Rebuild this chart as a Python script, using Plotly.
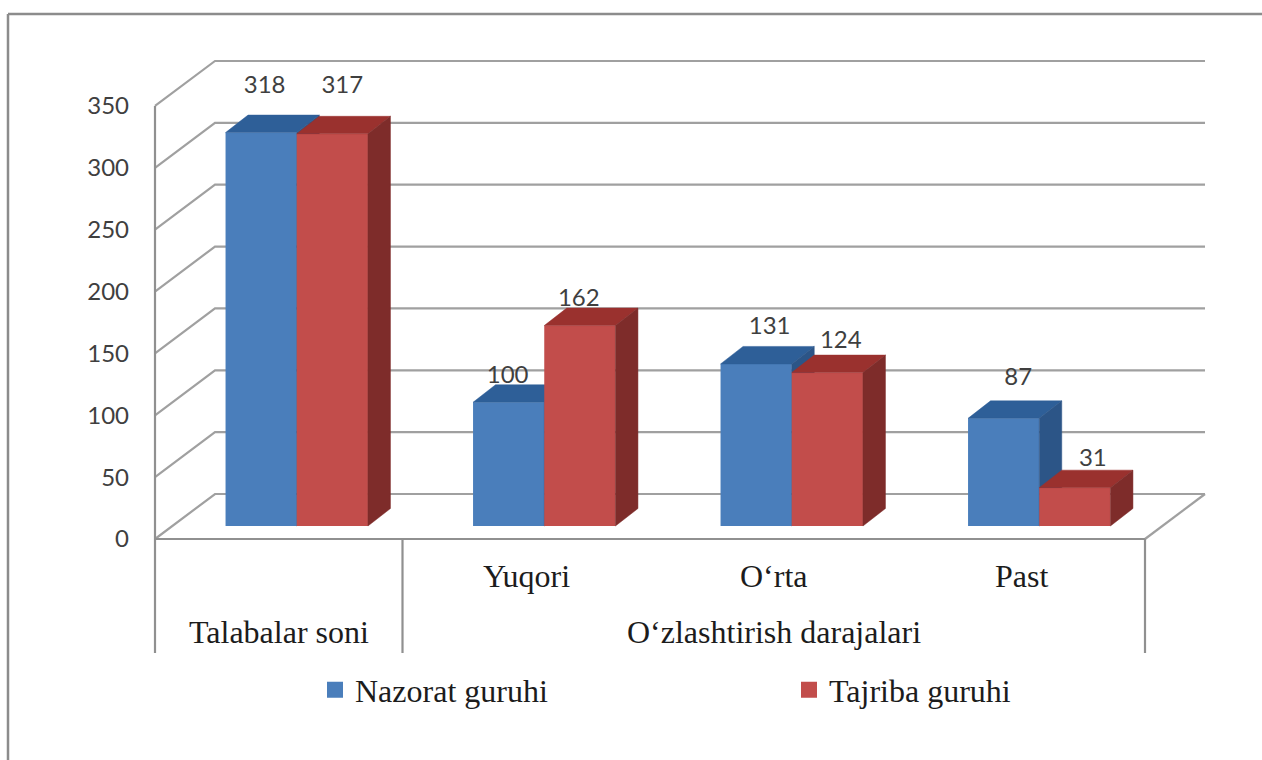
import plotly.graph_objects as go

# ---------- data ----------
series_names = ["Nazorat guruhi", "Tajriba guruhi"]
nazorat = [318, 100, 131, 87]
tajriba = [317, 162, 124, 31]
categories = ["", "Yuqori", "O‘rta", "Past"]
groups = ["Talabalar soni", "O‘zlashtirish darajalari"]
group_spans = [(0, 1), (1, 4)]
y_ticks = [0, 50, 100, 150, 200, 250, 300, 350]

# ---------- style / projection constants ----------
SLOT_PX = 247.5          # pixels per category slot
VAL_PX = 1.2372          # pixels per value unit
W, H = 1262, 760
PLOT_L, PLOT_R, PLOT_T, PLOT_B = 150, 1210, 55, 658
ORIGIN_X, ORIGIN_Y = 155, 539


def dx(px):
    return px / SLOT_PX


def dy(px):
    return px / VAL_PX


WALL_DX, WALL_DY = dx(60), dy(45)      # depth of the chart box
BAR_SHIFT_X, BAR_BASE = dx(18), dy(13)  # bars stand inside the box
BAR_W = dx(71.2)
BAR_DX, BAR_DY = dx(22.5), dy(17.5)    # depth of one bar
X_RANGE = [dx(PLOT_L - ORIGIN_X), dx(PLOT_R - ORIGIN_X)]
Y_RANGE = [dy(ORIGIN_Y - PLOT_B), dy(ORIGIN_Y - PLOT_T)]
BOTTOM = dy(ORIGIN_Y - 653)

GRID = "#A0A0A0"
AXIS = "#909090"
TEXT_NUM = "#3F3F3F"
TEXT_CAT = "#1C1C1C"
BLUE, BLUE_TOP, BLUE_SIDE = "#4A7EBB", "#2E5F98", "#2C5587"
RED, RED_TOP, RED_SIDE = "#C24D4B", "#9A312E", "#7E2C2A"
NUM_FONT = dict(family="Lato", size=24, color=TEXT_NUM)
CAT_FONT = dict(family="Liberation Serif", size=32, color=TEXT_CAT)

# manual data-label nudges (pixels from the bar's top centre)
LABEL_NUDGE_X = [[3.5, -1, 13.5, 14.5], [10, -1, 13.5, 18]]
LABEL_NUDGE_Y = [[46, 25, 36, 39], [47, 26, 31, 28]]

fig = go.Figure()

# ---------- walls and grid (base subplot) ----------
gx, gy = [], []
n_slots = len(categories)
for t in y_ticks:
    gx += [0, WALL_DX, n_slots + WALL_DX, None]
    gy += [t, t + WALL_DY, t + WALL_DY, None]
gx += [n_slots, n_slots + WALL_DX, None]
gy += [0, WALL_DY, None]
fig.add_trace(go.Scatter(x=gx, y=gy, mode="lines", line=dict(color=GRID, width=2.2),
                         hoverinfo="skip", showlegend=False))
ax_x = [0, 0, None, 0, n_slots, None]
ax_y = [y_ticks[-1], BOTTOM, None, 0, 0, None]
for _, end in group_spans:
    ax_x += [end, end, None]
    ax_y += [0, BOTTOM, None]
fig.add_trace(go.Scatter(x=ax_x, y=ax_y, mode="lines", line=dict(color=AXIS, width=2.2),
                         hoverinfo="skip", showlegend=False))

# ---------- legend-only entries (one legend each, placed independently) ----------
for name, col, leg in zip(series_names, [BLUE, RED], ["legend", "legend2"]):
    fig.add_trace(go.Scatter(x=[None], y=[None], mode="markers", name=name, legend=leg,
                             showlegend=True,
                             marker=dict(symbol="square", size=16, color=col)))


# ---------- bars: one overlaid subplot per series so red paints over blue ----------
def add_series(values, offset, front, top, side, xa, ya):
    centers = [i + 0.5 + BAR_SHIFT_X + offset for i in range(len(values))]
    fig.add_trace(go.Bar(x=centers, y=values, base=[BAR_BASE] * len(values), width=BAR_W,
                         marker=dict(color=front, line=dict(width=0)),
                         hoverinfo="skip", showlegend=False, xaxis=xa, yaxis=ya))
    tx, ty, sx, sy = [], [], [], []
    for c, v in zip(centers, values):
        x0, x1 = c - BAR_W / 2, c + BAR_W / 2
        yt = v + BAR_BASE
        tx += [x0, x1, x1 + BAR_DX, x0 + BAR_DX, x0, None]
        ty += [yt, yt, yt + BAR_DY, yt + BAR_DY, yt, None]
        sx += [x1, x1 + BAR_DX, x1 + BAR_DX, x1, x1, None]
        sy += [yt, yt + BAR_DY, BAR_BASE + BAR_DY, BAR_BASE, yt, None]
    for px_, py_, col in ((tx, ty, top), (sx, sy, side)):
        fig.add_trace(go.Scatter(x=px_, y=py_, mode="lines", fill="toself", fillcolor=col,
                                 line=dict(color=col, width=0.5), hoverinfo="skip",
                                 showlegend=False, xaxis=xa, yaxis=ya))
    return centers


c_blue = add_series(nazorat, -BAR_W / 2, BLUE, BLUE_TOP, BLUE_SIDE, "x2", "y2")
c_red = add_series(tajriba, BAR_W / 2, RED, RED_TOP, RED_SIDE, "x3", "y3")

# ---------- data labels ----------
for s, (centers, values) in enumerate(((c_blue, nazorat), (c_red, tajriba))):
    fig.add_trace(go.Scatter(
        x=[c + dx(n) for c, n in zip(centers, LABEL_NUDGE_X[s])],
        y=[v + BAR_BASE + dy(n) for v, n in zip(values, LABEL_NUDGE_Y[s])],
        text=[str(v) for v in values], mode="text", textposition="middle center",
        textfont=NUM_FONT, hoverinfo="skip", showlegend=False, xaxis="x3", yaxis="y3"))

# ---------- category text ----------
anns = []
for i, cat in enumerate(categories):
    if cat:
        anns.append(dict(x=i + 0.5, y=dy(ORIGIN_Y - 576), xref="x", yref="y", text=cat,
                         showarrow=False, font=CAT_FONT, yanchor="middle"))
for label, (a, b) in zip(groups, group_spans):
    anns.append(dict(x=(a + b) / 2, y=dy(ORIGIN_Y - 632), xref="x", yref="y", text=label,
                     showarrow=False, font=CAT_FONT, yanchor="middle"))

plot_w, plot_h = PLOT_R - PLOT_L, PLOT_B - PLOT_T


def pap_x(px):
    return (px - PLOT_L) / plot_w


def pap_y(py):
    return (PLOT_B - py) / plot_h


frame = dict(type="line", xref="paper", yref="paper", line=dict(color="#8C8C8C", width=2.5))
shapes = [
    dict(frame, x0=pap_x(8), x1=pap_x(W), y0=pap_y(14), y1=pap_y(14)),
    dict(frame, x0=pap_x(8), x1=pap_x(8), y0=pap_y(14), y1=pap_y(H)),
]

hidden = dict(visible=False, fixedrange=True)
legend_common = dict(orientation="h", xanchor="left", y=pap_y(690), yanchor="middle",
                     font=CAT_FONT, itemwidth=30, bgcolor="rgba(0,0,0,0)")
fig.update_layout(
    width=W, height=H, autosize=False,
    margin=dict(l=PLOT_L, r=W - PLOT_R, t=PLOT_T, b=H - PLOT_B, pad=0),
    paper_bgcolor="white", plot_bgcolor="rgba(0,0,0,0)",
    barmode="overlay",
    xaxis=dict(range=X_RANGE, visible=False, fixedrange=True),
    yaxis=dict(range=Y_RANGE, tickmode="array", tickvals=y_ticks,
               ticktext=[str(t) for t in y_ticks], showgrid=False, zeroline=False,
               showline=False, ticks="", ticklabelstandoff=20, tickfont=NUM_FONT, fixedrange=True),
    xaxis2=dict(range=X_RANGE, overlaying="x", anchor="y2", **hidden),
    yaxis2=dict(range=Y_RANGE, overlaying="y", anchor="x2", **hidden),
    xaxis3=dict(range=X_RANGE, overlaying="x", anchor="y3", **hidden),
    yaxis3=dict(range=Y_RANGE, overlaying="y", anchor="x3", **hidden),
    annotations=anns, shapes=shapes,
    legend=dict(legend_common, x=pap_x(315)),
    legend2=dict(legend_common, x=pap_x(789)),
)

fig.write_html("out.html", config={"displayModeBar": False},
               post_script="document.body.style.margin='0';document.body.style.overflow='hidden';")
